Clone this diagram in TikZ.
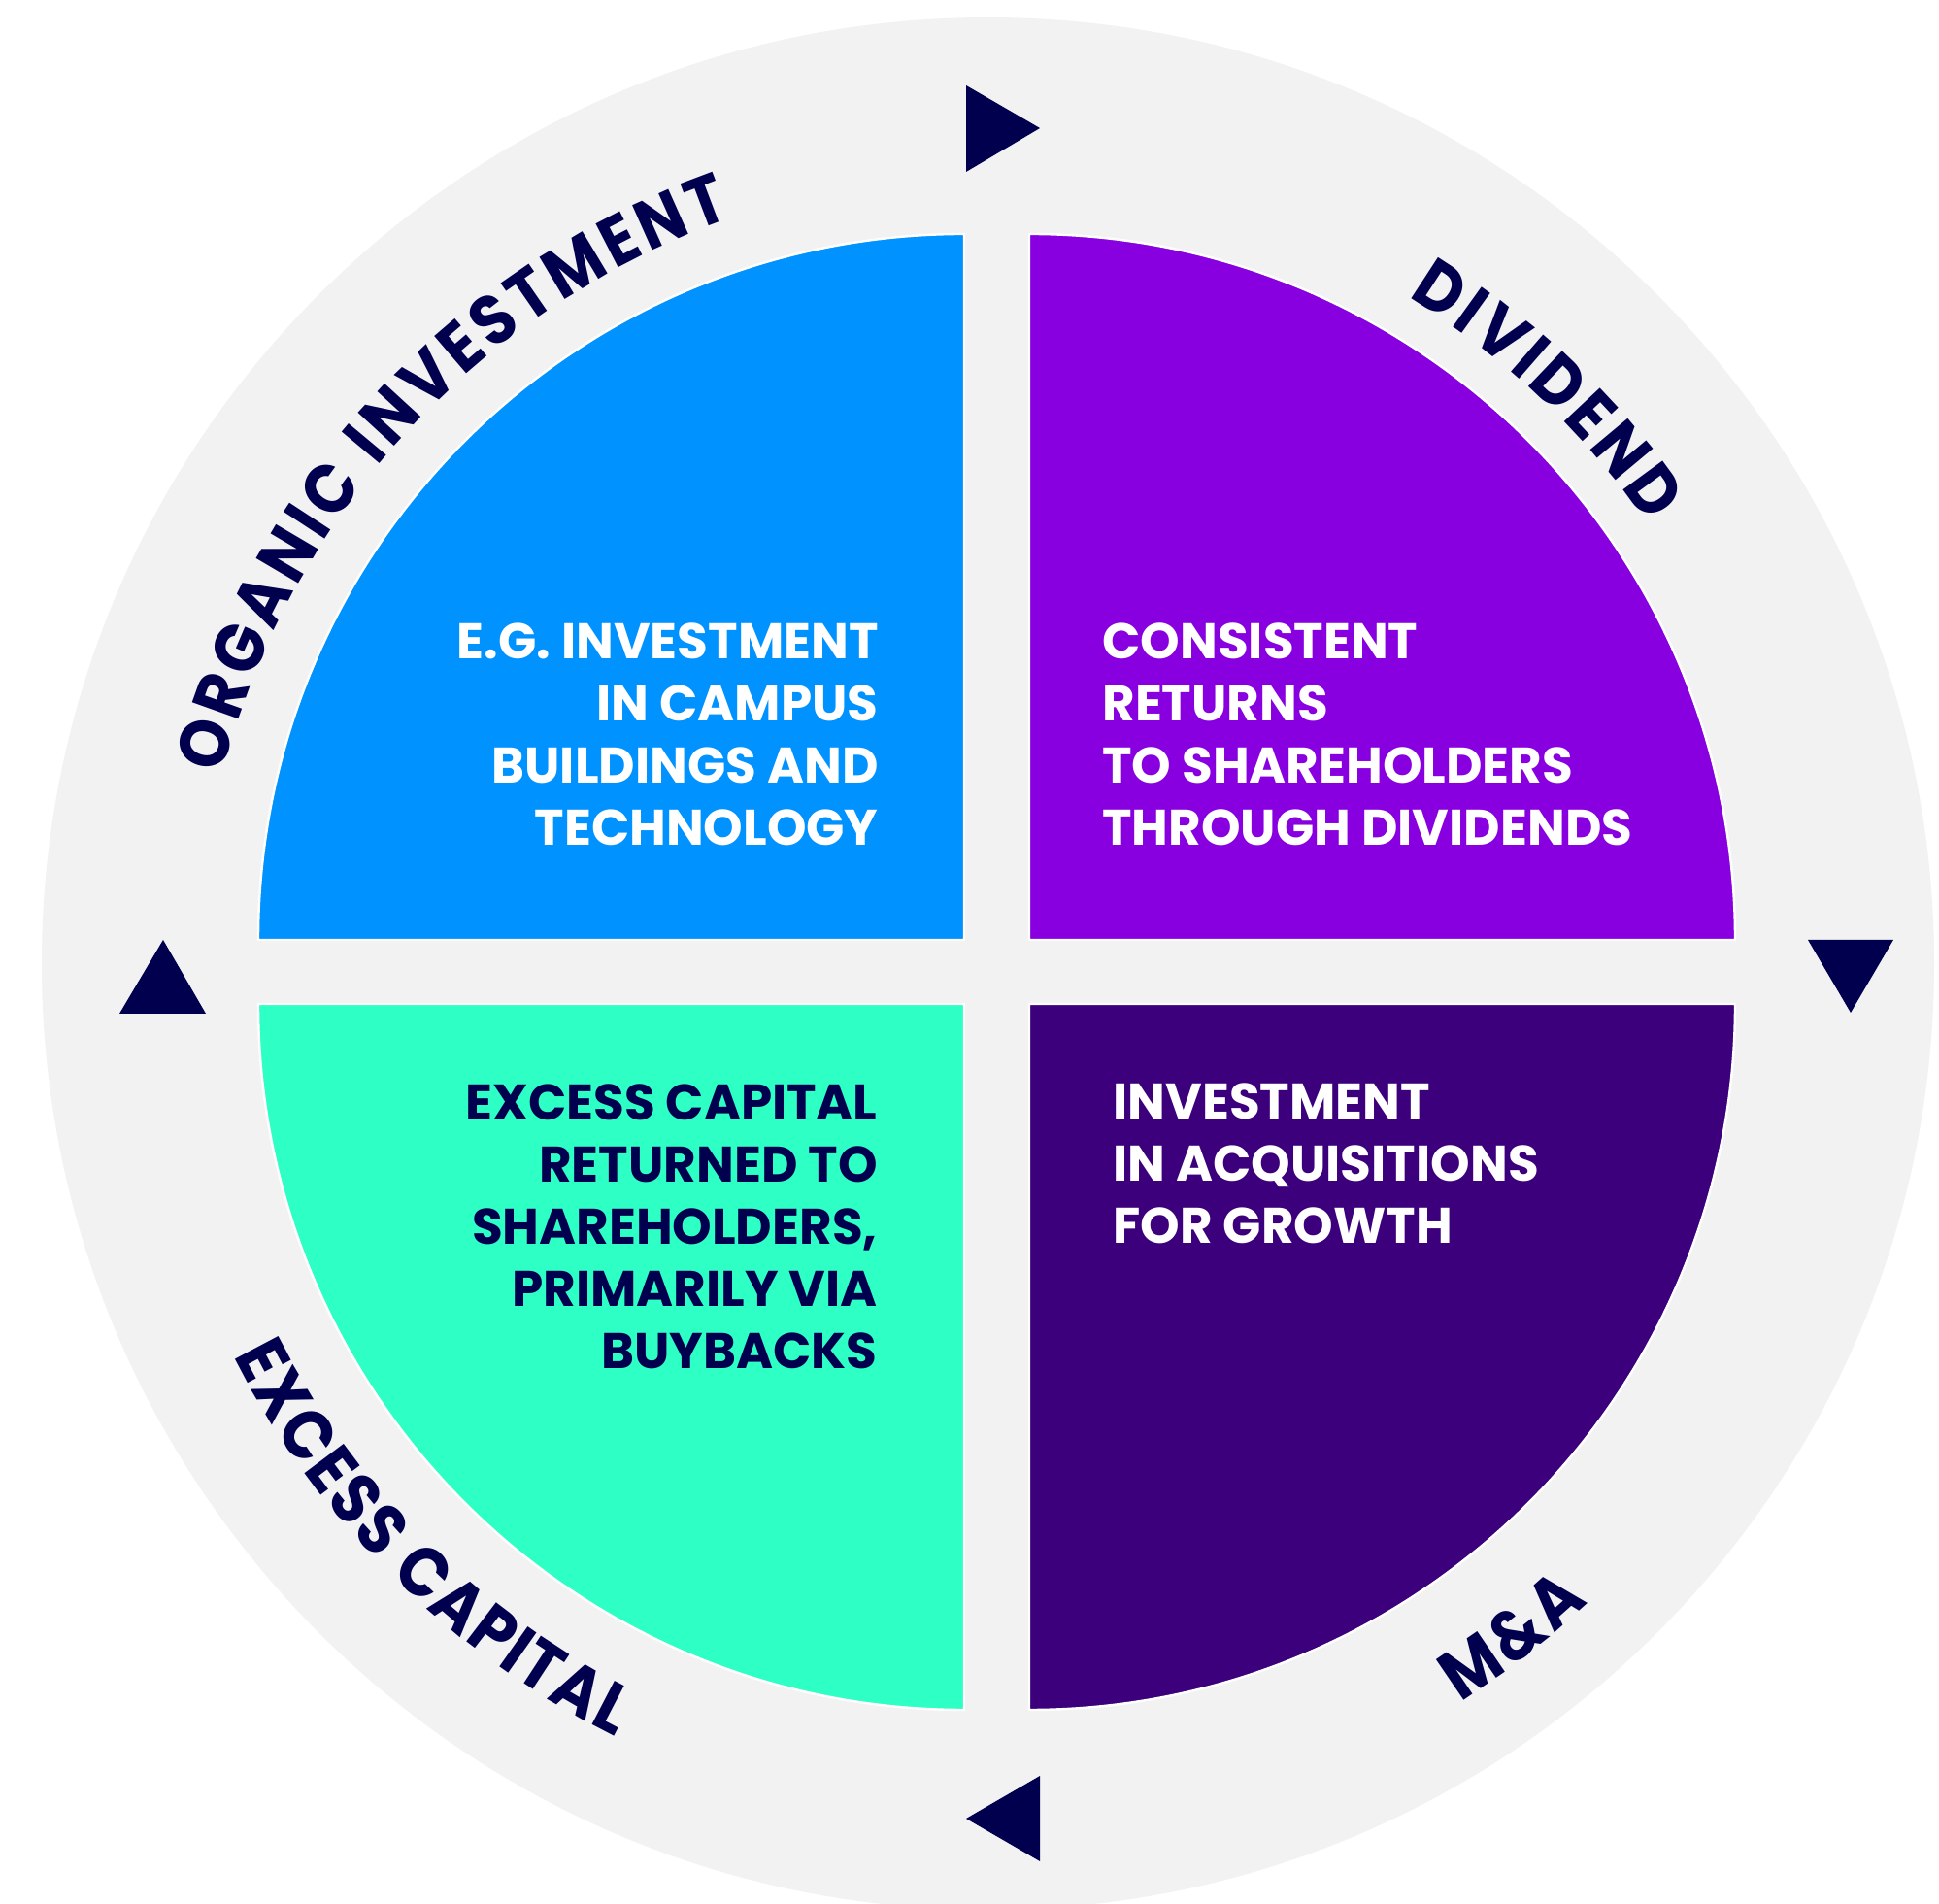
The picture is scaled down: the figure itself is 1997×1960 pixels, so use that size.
\documentclass[tikz,border=0pt]{standalone}
\usepackage{fontspec}
\setmainfont{Poppins}
\newfontfamily\labelfam{Poppins}[FakeStretch=0.9]
\usetikzlibrary{decorations.text}
\definecolor{ringgrey}{HTML}{F2F2F2}
\definecolor{navy}{HTML}{00004F}
\definecolor{qblue}{HTML}{0092FF}
\definecolor{qpurple}{HTML}{8800E0}
\definecolor{qteal}{HTML}{2EFFC4}
\definecolor{qdark}{HTML}{3C007D}
\newcommand\bodyfont{\bfseries\fontsize{25.8pt}{32pt}\selectfont}
\newcommand\labelfont{\labelfam\bfseries\fontsize{36pt}{36pt}\selectfont}
\begin{document}
\begin{tikzpicture}[x=0.5pt,y=0.5pt,
  quad/.style={draw=white, line width=1.2pt},
  tri/.style={fill=navy},
  body/.style={inner sep=0pt, font=\bodyfont}]
\useasboundingbox (0,0) rectangle (1997,1960);
\fill[white] (0,0) rectangle (1997,1960);
\begin{scope}
  \clip (0,0) rectangle (1997,1960);
  \fill[ringgrey] (1017.5,967.5) circle[radius=487.25pt];
\end{scope}
\coordinate (C) at (1026.5,959);
% quadrants
\path[quad, fill=qblue] (993,992) -- (266,992) arc[start angle=180, end angle=90, radius=363.5pt] -- cycle;
\path[quad, fill=qpurple] (1060,992) -- (1060,1719) arc[start angle=90, end angle=0, radius=363.5pt] -- cycle;
\path[quad, fill=qteal] (993,926) -- (993,199) arc[start angle=270, end angle=180, radius=363.5pt] -- cycle;
\path[quad, fill=qdark] (1060,926) -- (1787,926) arc[start angle=0, end angle=-90, radius=363.5pt] -- cycle;
% triangles
\fill[tri] (995,1872) -- (995,1783) -- (1071,1828) -- cycle;
\fill[tri] (1862,992) -- (1950,992) -- (1906,917) -- cycle;
\fill[tri] (995,87) -- (1071,131) -- (1071,43) -- cycle;
\fill[tri] (168,992) -- (123,916) -- (212,916) -- cycle;
% ring labels
\path[decorate, decoration={text along path, text align=fit to path, text color=navy,
  text={|\labelfont|ORGANIC INVESTMENT}}]
  (C) ++(165.7:411.5pt) arc[start angle=165.7, end angle=109.4, radius=411.5pt];
\path[decorate, decoration={text along path, text align=fit to path, text color=navy,
  text={|\labelfont|DIVIDEND}}]
  (C) ++(58.6:407pt) arc[start angle=58.6, end angle=34.5, radius=407pt];
\path[decorate, decoration={text along path, text align=fit to path, text color=navy,
  text={|\labelfont|M{\&}A}}]
  (C) ++(-57.6:445.5pt) arc[start angle=-57.6, end angle=-46.8, radius=445.5pt];
\path[decorate, decoration={text along path, text align=fit to path, text color=navy,
  text={|\labelfont|EXCESS CAPITAL}}]
  (C) ++(206.7:440pt) arc[start angle=206.7, end angle=243.5, radius=440pt];
% body texts
\node[body, anchor=base east, text=white] (tb) at (905,1281)
  {\begin{tabular}[t]{@{}r@{}}E.G. INVESTMENT\\IN CAMPUS\\BUILDINGS AND\\TECHNOLOGY\end{tabular}};
\node[body, anchor=base west, text=white] (tp) at (1135,1281)
  {\begin{tabular}[t]{@{}l@{}}CONSISTENT\\RETURNS\\TO SHAREHOLDERS\\THROUGH DIVIDENDS\end{tabular}};
\node[body, anchor=base east, text=navy] (tt) at (904,806)
  {\begin{tabular}[t]{@{}r@{}}EXCESS CAPITAL\\RETURNED TO\\SHAREHOLDERS,\\PRIMARILY VIA\\BUYBACKS\end{tabular}};
\node[body, anchor=base west, text=white] (td) at (1146,807)
  {\begin{tabular}[t]{@{}l@{}}INVESTMENT\\IN ACQUISITIONS\\FOR GROWTH\end{tabular}};
\end{tikzpicture}
\end{document}
